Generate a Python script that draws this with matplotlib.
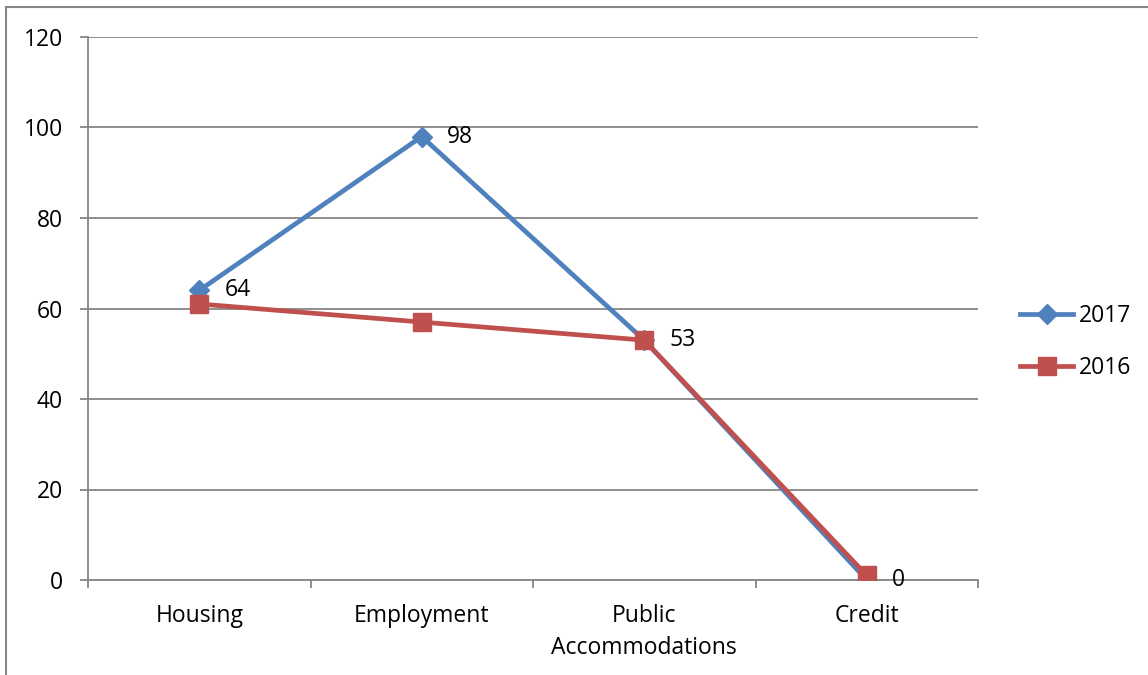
import matplotlib
matplotlib.use("Agg")
import matplotlib.pyplot as plt
from matplotlib.lines import Line2D

categories = ["Housing", "Employment", "Public\nAccommodations", "Credit"]
values_2017 = [64, 98, 53, 0]
values_2016 = [61, 57, 53, 1]
yticks = [0, 20, 40, 60, 80, 100, 120]

plt.rcParams['font.family'] = ['Open Sans', 'DejaVu Sans']
FS = 16.5
GRAY = "#868686"
BLUE = "#4F81BD"
RED = "#C0504D"
LW = 3.4

fig = plt.figure(figsize=(11.48, 6.75), dpi=100)
ax = fig.add_axes([88/1148, 1-580/675, (978-88)/1148, (580-37)/675])

x = list(range(len(categories)))
ax.plot(x, values_2017, color=BLUE, lw=LW, marker='D', ms=10.5, mec=BLUE, mfc=BLUE, zorder=3, label="2017")
ax.plot(x, values_2016, color=RED, lw=LW, marker='s', ms=13.5, mec=RED, mfc=RED, zorder=4, label="2016")

for xi, v in zip(x, values_2017):
    ax.annotate(str(v), (xi, v), xytext=(18, 0), textcoords='offset points',
                ha='left', va='center', fontsize=FS, color='black', zorder=5)

ax.set_xlim(-0.5, 3.5)
ax.set_ylim(0, 120)
ax.set_yticks(yticks)
ax.set_yticklabels([str(t) for t in yticks], fontsize=FS)
ax.yaxis.grid(True, color=GRAY, lw=1.3)
ax.set_axisbelow(True)

ax.set_xticks(x)
ax.set_xticklabels(categories, fontsize=FS, linespacing=1.45)
ax.tick_params(axis='x', length=0, pad=17)
ax.set_xticks([-0.5, 0.5, 1.5, 2.5, 3.5], minor=True)
ax.tick_params(axis='x', which='minor', length=6, color=GRAY, width=1.3, direction='out')
ax.tick_params(axis='y', length=6, color=GRAY, width=1.3, direction='out', pad=12)

for s in ['top', 'right']:
    ax.spines[s].set_visible(False)
for s in ['left', 'bottom']:
    ax.spines[s].set_color(GRAY)
    ax.spines[s].set_linewidth(1.3)

handles = [Line2D([], [], color=BLUE, lw=LW, marker='D', ms=10.5),
           Line2D([], [], color=RED, lw=LW, marker='s', ms=13.5)]
fig.legend(handles, ["2017", "2016"], loc='center left', bbox_to_anchor=(999/1148, 1-342/675),
           frameon=False, fontsize=FS, handlelength=2.35, handletextpad=0.25, labelspacing=1.25)

# outer chart frame (left and top only visible)
fig.add_artist(Line2D([6/1148, 6/1148], [0, 1-7/675], color=GRAY, lw=1.5, transform=fig.transFigure))
fig.add_artist(Line2D([6/1148, 1], [1-7/675, 1-7/675], color=GRAY, lw=1.5, transform=fig.transFigure))

fig.savefig("out.png", dpi=100, facecolor="white")
